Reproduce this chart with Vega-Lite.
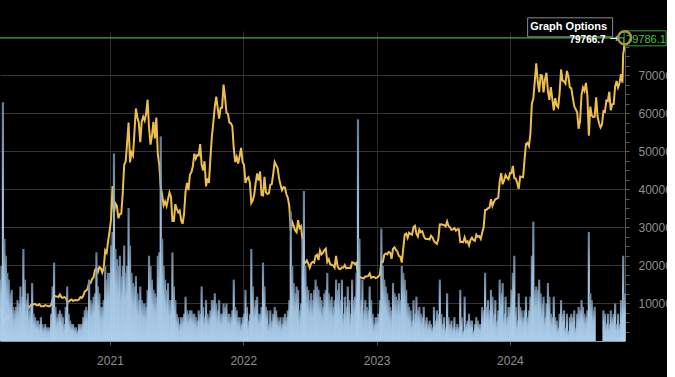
{
  "$schema": "https://vega.github.io/schema/vega-lite/v6.json",
  "width": 625,
  "height": 310,
  "autosize": "none",
  "padding": {"left": 0, "top": 31, "right": 42, "bottom": 36},
  "background": "#000000",
  "config": {"view": {"stroke": null}, "axis": {"labelOverlap": false}},
  "datasets": {
    "btc": [
      {"d":"2020-03-06","p":9120,"v":18},{"d":"2020-03-10","p":7900,"v":22},{"d":"2020-03-14","p":5200,"v":70},{"d":"2020-03-18","p":5400,"v":30},
      {"d":"2020-03-22","p":5830,"v":25},{"d":"2020-03-26","p":6760,"v":20},{"d":"2020-03-30","p":5880,"v":18},{"d":"2020-04-03","p":6730,"v":14},
      {"d":"2020-04-07","p":7200,"v":15},{"d":"2020-04-11","p":6880,"v":10},{"d":"2020-04-15","p":6640,"v":9},{"d":"2020-04-19","p":7130,"v":10},
      {"d":"2020-04-23","p":7500,"v":12},{"d":"2020-04-27","p":7750,"v":11},{"d":"2020-05-01","p":8860,"v":16},{"d":"2020-05-05","p":8990,"v":13},
      {"d":"2020-05-09","p":9600,"v":27},{"d":"2020-05-13","p":9270,"v":18},{"d":"2020-05-17","p":9670,"v":12},{"d":"2020-05-21","p":9080,"v":14},
      {"d":"2020-05-25","p":8800,"v":9},{"d":"2020-05-29","p":9430,"v":10},{"d":"2020-06-02","p":9530,"v":17},{"d":"2020-06-06","p":9660,"v":8},
      {"d":"2020-06-10","p":9780,"v":7},{"d":"2020-06-14","p":9390,"v":6},{"d":"2020-06-18","p":9400,"v":6},{"d":"2020-06-22","p":9680,"v":5},
      {"d":"2020-06-26","p":9150,"v":7},{"d":"2020-06-30","p":9140,"v":5},{"d":"2020-07-04","p":9130,"v":4},{"d":"2020-07-08","p":9430,"v":5},
      {"d":"2020-07-12","p":9300,"v":4},{"d":"2020-07-16","p":9130,"v":4},{"d":"2020-07-20","p":9160,"v":4},{"d":"2020-07-24","p":9540,"v":8},
      {"d":"2020-07-28","p":10940,"v":16},{"d":"2020-08-01","p":11800,"v":23},{"d":"2020-08-05","p":11750,"v":10},{"d":"2020-08-09","p":11680,"v":7},
      {"d":"2020-08-13","p":11580,"v":8},{"d":"2020-08-17","p":12250,"v":9},{"d":"2020-08-21","p":11530,"v":8},{"d":"2020-08-25","p":11370,"v":7},
      {"d":"2020-08-29","p":11540,"v":5},{"d":"2020-09-02","p":11400,"v":10},{"d":"2020-09-06","p":10280,"v":16},{"d":"2020-09-10","p":10360,"v":8},
      {"d":"2020-09-14","p":10680,"v":6},{"d":"2020-09-18","p":10940,"v":5},{"d":"2020-09-22","p":10540,"v":5},{"d":"2020-09-26","p":10730,"v":4},
      {"d":"2020-09-30","p":10780,"v":4},{"d":"2020-10-04","p":10670,"v":3},{"d":"2020-10-08","p":10930,"v":5},{"d":"2020-10-12","p":11540,"v":5},
      {"d":"2020-10-16","p":11320,"v":5},{"d":"2020-10-20","p":11920,"v":7},{"d":"2020-10-24","p":13030,"v":9},{"d":"2020-10-28","p":13270,"v":10},
      {"d":"2020-11-01","p":13740,"v":9},{"d":"2020-11-05","p":15570,"v":18},{"d":"2020-11-09","p":15300,"v":12},{"d":"2020-11-13","p":16300,"v":11},
      {"d":"2020-11-17","p":16720,"v":13},{"d":"2020-11-21","p":18670,"v":14},{"d":"2020-11-25","p":19150,"v":26},{"d":"2020-11-29","p":18180,"v":16},
      {"d":"2020-12-03","p":19440,"v":14},{"d":"2020-12-07","p":19180,"v":10},{"d":"2020-12-11","p":18040,"v":10},{"d":"2020-12-15","p":19270,"v":12},
      {"d":"2020-12-19","p":23860,"v":22},{"d":"2020-12-23","p":23240,"v":18},{"d":"2020-12-27","p":26270,"v":20},{"d":"2020-12-31","p":28950,"v":20},
      {"d":"2021-01-04","p":31970,"v":28},{"d":"2021-01-08","p":40800,"v":32},{"d":"2021-01-12","p":33900,"v":55},{"d":"2021-01-16","p":36180,"v":27},
      {"d":"2021-01-20","p":35500,"v":24},{"d":"2021-01-24","p":32300,"v":22},{"d":"2021-01-28","p":33400,"v":25},{"d":"2021-02-01","p":33500,"v":19},
      {"d":"2021-02-05","p":38900,"v":22},{"d":"2021-02-09","p":46400,"v":28},{"d":"2021-02-13","p":47200,"v":20},{"d":"2021-02-17","p":52100,"v":22},
      {"d":"2021-02-21","p":57500,"v":39},{"d":"2021-02-25","p":47000,"v":28},{"d":"2021-03-01","p":49600,"v":20},{"d":"2021-03-05","p":48800,"v":17},
      {"d":"2021-03-09","p":54900,"v":16},{"d":"2021-03-13","p":61200,"v":19},{"d":"2021-03-17","p":58900,"v":14},{"d":"2021-03-21","p":57400,"v":12},
      {"d":"2021-03-25","p":52300,"v":16},{"d":"2021-03-29","p":57700,"v":12},{"d":"2021-04-02","p":59000,"v":11},{"d":"2021-04-06","p":58000,"v":11},
      {"d":"2021-04-10","p":59800,"v":10},{"d":"2021-04-14","p":63500,"v":15},{"d":"2021-04-18","p":56200,"v":25},{"d":"2021-04-22","p":51700,"v":22},
      {"d":"2021-04-26","p":54000,"v":18},{"d":"2021-04-30","p":57700,"v":15},{"d":"2021-05-04","p":53300,"v":14},{"d":"2021-05-08","p":58800,"v":13},
      {"d":"2021-05-12","p":49200,"v":25},{"d":"2021-05-16","p":46400,"v":26},{"d":"2021-05-20","p":40600,"v":60},{"d":"2021-05-24","p":38400,"v":30},
      {"d":"2021-05-28","p":35700,"v":22},{"d":"2021-06-01","p":36700,"v":18},{"d":"2021-06-05","p":35500,"v":15},{"d":"2021-06-09","p":37300,"v":17},
      {"d":"2021-06-13","p":39100,"v":12},{"d":"2021-06-17","p":38000,"v":12},{"d":"2021-06-21","p":31600,"v":26},{"d":"2021-06-25","p":31600,"v":16},
      {"d":"2021-06-29","p":36000,"v":12},{"d":"2021-07-03","p":34800,"v":8},{"d":"2021-07-07","p":33800,"v":7},{"d":"2021-07-11","p":34300,"v":5},
      {"d":"2021-07-15","p":31800,"v":7},{"d":"2021-07-19","p":30800,"v":7},{"d":"2021-07-23","p":33600,"v":8},{"d":"2021-07-27","p":39400,"v":13},
      {"d":"2021-07-31","p":41600,"v":9},{"d":"2021-08-04","p":39700,"v":8},{"d":"2021-08-08","p":43800,"v":9},{"d":"2021-08-12","p":44400,"v":9},
      {"d":"2021-08-16","p":46000,"v":8},{"d":"2021-08-20","p":49300,"v":8},{"d":"2021-08-24","p":48000,"v":7},{"d":"2021-08-28","p":49000,"v":6},
      {"d":"2021-09-01","p":48800,"v":9},{"d":"2021-09-05","p":51800,"v":8},{"d":"2021-09-09","p":46400,"v":16},{"d":"2021-09-13","p":44900,"v":10},
      {"d":"2021-09-17","p":47300,"v":7},{"d":"2021-09-21","p":40700,"v":12},{"d":"2021-09-25","p":42800,"v":8},{"d":"2021-09-29","p":41600,"v":7},
      {"d":"2021-10-03","p":48200,"v":9},{"d":"2021-10-07","p":53800,"v":12},{"d":"2021-10-11","p":57500,"v":12},{"d":"2021-10-15","p":61700,"v":14},
      {"d":"2021-10-19","p":64300,"v":11},{"d":"2021-10-23","p":61300,"v":9},{"d":"2021-10-27","p":58500,"v":12},{"d":"2021-10-31","p":61300,"v":8},
      {"d":"2021-11-04","p":61400,"v":8},{"d":"2021-11-08","p":67500,"v":11},{"d":"2021-11-12","p":64200,"v":10},{"d":"2021-11-16","p":60100,"v":11},
      {"d":"2021-11-20","p":59800,"v":8},{"d":"2021-11-24","p":57500,"v":8},{"d":"2021-11-28","p":57300,"v":7},{"d":"2021-12-02","p":56500,"v":9},
      {"d":"2021-12-06","p":50600,"v":18},{"d":"2021-12-10","p":47100,"v":10},{"d":"2021-12-14","p":48400,"v":9},{"d":"2021-12-18","p":46700,"v":7},
      {"d":"2021-12-22","p":48600,"v":7},{"d":"2021-12-26","p":50800,"v":5},{"d":"2021-12-30","p":47100,"v":7},
      {"d":"2022-01-03","p":46400,"v":8},{"d":"2022-01-07","p":41600,"v":15},{"d":"2022-01-11","p":42700,"v":10},{"d":"2022-01-15","p":43100,"v":6},
      {"d":"2022-01-19","p":41700,"v":8},{"d":"2022-01-23","p":36300,"v":27},{"d":"2022-01-27","p":37000,"v":16},{"d":"2022-01-31","p":38500,"v":10},
      {"d":"2022-02-04","p":41600,"v":12},{"d":"2022-02-08","p":44100,"v":13},{"d":"2022-02-12","p":42200,"v":8},{"d":"2022-02-16","p":44600,"v":8},
      {"d":"2022-02-20","p":38400,"v":10},{"d":"2022-02-24","p":38300,"v":23},{"d":"2022-02-28","p":43200,"v":16},{"d":"2022-03-04","p":39100,"v":10},
      {"d":"2022-03-08","p":38700,"v":9},{"d":"2022-03-12","p":38800,"v":5},{"d":"2022-03-16","p":41100,"v":9},{"d":"2022-03-20","p":41300,"v":6},
      {"d":"2022-03-24","p":44000,"v":8},{"d":"2022-03-28","p":47100,"v":10},{"d":"2022-04-01","p":46300,"v":9},{"d":"2022-04-05","p":45500,"v":7},
      {"d":"2022-04-09","p":42800,"v":6},{"d":"2022-04-13","p":41100,"v":7},{"d":"2022-04-17","p":39700,"v":5},{"d":"2022-04-21","p":40500,"v":7},
      {"d":"2022-04-25","p":40400,"v":8},{"d":"2022-04-29","p":38600,"v":7},{"d":"2022-05-03","p":37700,"v":9},{"d":"2022-05-07","p":35500,"v":12},
      {"d":"2022-05-11","p":29000,"v":38},{"d":"2022-05-15","p":31300,"v":22},{"d":"2022-05-19","p":30300,"v":17},{"d":"2022-05-23","p":29100,"v":14},
      {"d":"2022-05-27","p":28600,"v":16},{"d":"2022-05-31","p":31800,"v":15},{"d":"2022-06-04","p":29700,"v":9},{"d":"2022-06-08","p":30200,"v":11},
      {"d":"2022-06-12","p":26800,"v":30},{"d":"2022-06-16","p":20400,"v":44},{"d":"2022-06-20","p":20600,"v":22},{"d":"2022-06-24","p":21200,"v":16},
      {"d":"2022-06-28","p":20300,"v":15},{"d":"2022-07-02","p":19300,"v":12},{"d":"2022-07-06","p":20500,"v":14},{"d":"2022-07-10","p":20800,"v":12},
      {"d":"2022-07-14","p":20600,"v":15},{"d":"2022-07-18","p":22400,"v":18},{"d":"2022-07-22","p":22700,"v":16},{"d":"2022-07-26","p":21300,"v":15},
      {"d":"2022-07-30","p":23800,"v":13},{"d":"2022-08-03","p":22800,"v":12},{"d":"2022-08-07","p":23200,"v":10},{"d":"2022-08-11","p":23900,"v":14},
      {"d":"2022-08-15","p":24300,"v":15},{"d":"2022-08-19","p":20800,"v":20},{"d":"2022-08-23","p":21500,"v":14},{"d":"2022-08-27","p":20200,"v":12},
      {"d":"2022-08-31","p":20000,"v":13},{"d":"2022-09-04","p":19900,"v":10},{"d":"2022-09-08","p":19300,"v":12},{"d":"2022-09-12","p":22400,"v":18},
      {"d":"2022-09-16","p":19700,"v":15},{"d":"2022-09-20","p":19000,"v":17},{"d":"2022-09-24","p":18900,"v":12},{"d":"2022-09-28","p":19400,"v":18},
      {"d":"2022-10-02","p":19300,"v":8},{"d":"2022-10-06","p":20000,"v":13},{"d":"2022-10-10","p":19100,"v":10},{"d":"2022-10-14","p":19200,"v":16},
      {"d":"2022-10-18","p":19300,"v":12},{"d":"2022-10-22","p":19200,"v":8},{"d":"2022-10-26","p":20700,"v":18},{"d":"2022-10-30","p":20600,"v":12},
      {"d":"2022-11-03","p":20200,"v":13},{"d":"2022-11-07","p":20600,"v":20},{"d":"2022-11-11","p":17000,"v":65},{"d":"2022-11-15","p":16900,"v":30},
      {"d":"2022-11-19","p":16700,"v":12},{"d":"2022-11-23","p":16600,"v":18},{"d":"2022-11-27","p":16460,"v":9},{"d":"2022-12-01","p":16970,"v":12},
      {"d":"2022-12-05","p":16970,"v":10},{"d":"2022-12-09","p":17130,"v":9},{"d":"2022-12-13","p":17780,"v":16},{"d":"2022-12-17","p":16630,"v":12},
      {"d":"2022-12-21","p":16830,"v":8},{"d":"2022-12-25","p":16840,"v":5},{"d":"2022-12-29","p":16550,"v":7},
      {"d":"2023-01-02","p":16680,"v":7},{"d":"2023-01-06","p":16950,"v":8},{"d":"2023-01-10","p":17440,"v":12},{"d":"2023-01-14","p":20900,"v":33},
      {"d":"2023-01-18","p":20800,"v":22},{"d":"2023-01-22","p":22700,"v":18},{"d":"2023-01-26","p":23050,"v":16},{"d":"2023-01-30","p":22800,"v":14},
      {"d":"2023-02-03","p":23430,"v":12},{"d":"2023-02-07","p":23250,"v":10},{"d":"2023-02-11","p":21630,"v":9},{"d":"2023-02-15","p":24300,"v":17},
      {"d":"2023-02-19","p":24640,"v":14},{"d":"2023-02-23","p":23940,"v":13},{"d":"2023-02-27","p":23500,"v":12},{"d":"2023-03-03","p":22360,"v":14},
      {"d":"2023-03-07","p":22200,"v":12},{"d":"2023-03-11","p":20630,"v":22},{"d":"2023-03-15","p":24370,"v":20},{"d":"2023-03-19","p":28040,"v":18},
      {"d":"2023-03-23","p":28300,"v":15},{"d":"2023-03-27","p":27140,"v":11},{"d":"2023-03-31","p":28480,"v":10},{"d":"2023-04-04","p":28170,"v":9},
      {"d":"2023-04-08","p":27950,"v":6},{"d":"2023-04-12","p":30000,"v":12},{"d":"2023-04-16","p":30300,"v":8},{"d":"2023-04-20","p":28250,"v":13},
      {"d":"2023-04-24","p":27500,"v":9},{"d":"2023-04-28","p":29340,"v":10},{"d":"2023-05-02","p":28680,"v":8},{"d":"2023-05-06","p":28900,"v":7},
      {"d":"2023-05-10","p":27650,"v":10},{"d":"2023-05-14","p":26920,"v":6},{"d":"2023-05-18","p":26820,"v":7},{"d":"2023-05-22","p":26850,"v":5},
      {"d":"2023-05-26","p":26720,"v":6},{"d":"2023-05-30","p":27700,"v":5},{"d":"2023-06-03","p":27250,"v":4},{"d":"2023-06-07","p":26350,"v":10},
      {"d":"2023-06-11","p":25850,"v":6},{"d":"2023-06-15","p":25580,"v":9},{"d":"2023-06-19","p":26840,"v":8},{"d":"2023-06-23","p":30680,"v":18},
      {"d":"2023-06-27","p":30700,"v":8},{"d":"2023-07-01","p":30590,"v":5},{"d":"2023-07-05","p":30510,"v":7},{"d":"2023-07-09","p":30170,"v":4},
      {"d":"2023-07-13","p":31450,"v":14},{"d":"2023-07-17","p":30250,"v":7},{"d":"2023-07-21","p":29900,"v":5},{"d":"2023-07-25","p":29230,"v":6},
      {"d":"2023-07-29","p":29350,"v":4},{"d":"2023-08-02","p":29700,"v":7},{"d":"2023-08-06","p":29050,"v":4},{"d":"2023-08-10","p":29430,"v":5},
      {"d":"2023-08-14","p":29400,"v":4},{"d":"2023-08-18","p":26050,"v":15},{"d":"2023-08-22","p":26120,"v":7},{"d":"2023-08-26","p":26010,"v":3},
      {"d":"2023-08-30","p":27300,"v":13},{"d":"2023-09-03","p":25970,"v":5},{"d":"2023-09-07","p":26240,"v":6},{"d":"2023-09-11","p":25160,"v":8},
      {"d":"2023-09-15","p":26600,"v":6},{"d":"2023-09-19","p":27200,"v":6},{"d":"2023-09-23","p":26580,"v":3},{"d":"2023-09-27","p":26350,"v":5},
      {"d":"2023-10-01","p":27980,"v":7},{"d":"2023-10-05","p":27420,"v":6},{"d":"2023-10-09","p":27600,"v":5},{"d":"2023-10-13","p":26850,"v":5},
      {"d":"2023-10-17","p":28500,"v":10},{"d":"2023-10-21","p":29900,"v":9},{"d":"2023-10-25","p":34500,"v":20},{"d":"2023-10-29","p":34540,"v":10},
      {"d":"2023-11-02","p":34940,"v":12},{"d":"2023-11-06","p":35050,"v":9},{"d":"2023-11-10","p":37310,"v":15},{"d":"2023-11-14","p":35550,"v":13},
      {"d":"2023-11-18","p":36600,"v":8},{"d":"2023-11-22","p":37300,"v":12},{"d":"2023-11-26","p":37450,"v":6},{"d":"2023-11-30","p":37720,"v":9},
      {"d":"2023-12-04","p":41980,"v":18},{"d":"2023-12-08","p":44170,"v":14},{"d":"2023-12-12","p":41250,"v":17},{"d":"2023-12-16","p":42250,"v":8},
      {"d":"2023-12-20","p":43650,"v":13},{"d":"2023-12-24","p":43000,"v":7},{"d":"2023-12-28","p":42580,"v":10},
      {"d":"2024-01-01","p":44180,"v":10},{"d":"2024-01-05","p":44150,"v":15},{"d":"2024-01-09","p":46100,"v":20},{"d":"2024-01-13","p":42850,"v":25},
      {"d":"2024-01-17","p":42740,"v":10},{"d":"2024-01-21","p":41580,"v":6},{"d":"2024-01-25","p":40000,"v":14},{"d":"2024-01-29","p":43300,"v":10},
      {"d":"2024-02-02","p":43200,"v":9},{"d":"2024-02-06","p":43090,"v":7},{"d":"2024-02-10","p":47770,"v":9},{"d":"2024-02-14","p":51840,"v":13},
      {"d":"2024-02-18","p":52140,"v":7},{"d":"2024-02-22","p":51300,"v":9},{"d":"2024-02-26","p":54500,"v":13},{"d":"2024-03-01","p":62440,"v":25},
      {"d":"2024-03-05","p":63800,"v":35},{"d":"2024-03-09","p":68300,"v":15},{"d":"2024-03-13","p":73100,"v":16},{"d":"2024-03-17","p":68390,"v":15},
      {"d":"2024-03-21","p":65500,"v":18},{"d":"2024-03-25","p":69980,"v":14},{"d":"2024-03-29","p":69870,"v":11},{"d":"2024-04-02","p":65450,"v":13},
      {"d":"2024-04-06","p":68900,"v":7},{"d":"2024-04-10","p":70600,"v":11},{"d":"2024-04-14","p":65660,"v":17},{"d":"2024-04-18","p":63470,"v":13},
      {"d":"2024-04-22","p":66840,"v":8},{"d":"2024-04-26","p":63750,"v":7},{"d":"2024-04-30","p":60660,"v":13},{"d":"2024-05-04","p":63900,"v":7},
      {"d":"2024-05-08","p":62000,"v":6},{"d":"2024-05-12","p":61480,"v":4},{"d":"2024-05-16","p":65250,"v":8},{"d":"2024-05-20","p":71450,"v":12},
      {"d":"2024-05-24","p":68550,"v":8},{"d":"2024-05-28","p":68350,"v":9},{"d":"2024-06-01","p":67750,"v":4},{"d":"2024-06-05","p":71080,"v":8},
      {"d":"2024-06-09","p":69650,"v":3},{"d":"2024-06-13","p":66750,"v":7},{"d":"2024-06-17","p":66500,"v":8},{"d":"2024-06-21","p":64100,"v":7},
      {"d":"2024-06-25","p":61800,"v":9},{"d":"2024-06-29","p":60970,"v":4},{"d":"2024-07-03","p":60200,"v":8},{"d":"2024-07-07","p":55860,"v":10},
      {"d":"2024-07-11","p":57900,"v":9},{"d":"2024-07-15","p":64800,"v":12},{"d":"2024-07-19","p":66680,"v":10},{"d":"2024-07-23","p":65800,"v":8},
      {"d":"2024-07-27","p":67900,"v":7},{"d":"2024-07-31","p":64630,"v":9},{"d":"2024-08-04","p":54020,"v":32},{"d":"2024-08-08","p":61700,"v":14},
      {"d":"2024-08-12","p":59350,"v":12},{"d":"2024-08-16","p":58900,"v":9},{"d":"2024-08-20","p":59000,"v":10},{"d":"2024-08-24","p":64100},
      {"d":"2024-08-28","p":59000},{"d":"2024-09-01","p":57300},{"d":"2024-09-05","p":56200},{"d":"2024-09-09","p":57000},
      {"d":"2024-09-13","p":60500,"v":9},{"d":"2024-09-17","p":60300,"v":8},{"d":"2024-09-21","p":63300,"v":5},{"d":"2024-09-25","p":63100,"v":8},
      {"d":"2024-09-29","p":65600,"v":5},{"d":"2024-10-03","p":60700,"v":9},{"d":"2024-10-07","p":62300,"v":7},{"d":"2024-10-11","p":62400,"v":8},
      {"d":"2024-10-15","p":67000,"v":11},{"d":"2024-10-19","p":68400,"v":5},{"d":"2024-10-23","p":66700,"v":8},{"d":"2024-10-27","p":67900,"v":5},
      {"d":"2024-10-31","p":70200,"v":12},{"d":"2024-11-04","p":68000,"v":10},{"d":"2024-11-06","p":75600,"v":25},{"d":"2024-11-08","p":76500,"v":12},
      {"d":"2024-11-10","p":79786.1,"v":14}
    ],
    "last": [
      {"d":"2024-11-10","p":79786.1,"tag":"79786.1","prev":"79766.7","arr":"→","btn":"Graph Options"}
    ]
  },
  "layer": [
    {
      "data": {"name": "btc"},
      "mark": {"type": "line", "color": "#ecbf4c", "strokeWidth": 2, "clip": true},
      "encoding": {
        "x": {
          "field": "d", "type": "temporal", "title": null,
          "scale": {"type": "utc", "padding": 0, "domain": [{"year":2020,"month":3,"date":6,"utc":true},{"year":2024,"month":11,"date":11,"utc":true}]},
          "axis": {
            "values": [
              {"year":2021,"month":1,"date":1,"utc":true},
              {"year":2022,"month":1,"date":1,"utc":true},
              {"year":2023,"month":1,"date":1,"utc":true},
              {"year":2024,"month":1,"date":1,"utc":true}
            ],
            "format": "%Y",
            "formatType": "utc",
            "labelOverlap": false,
            "labelFlush": false,
            "grid": true,
            "gridColor": "#2c2c2c",
            "domainColor": "#8a98a6",
            "tickColor": "#555555",
            "tickSize": 4,
            "labelColor": "#8e8e8e",
            "labelFont": "Liberation Sans",
            "labelFontSize": 12,
            "labelPadding": 10
          }
        },
        "y": {
          "field": "p", "type": "quantitative", "title": null,
          "scale": {"domain": [0, 81579], "nice": false, "zero": true},
          "axis": {
            "values": [2500,5000,7500,10000,12500,15000,17500,20000,22500,25000,27500,30000,32500,35000,37500,40000,42500,45000,47500,50000,52500,55000,57500,60000,62500,65000,67500,70000,72500,75000,77500],
            "orient": "right",
            "labelExpr": "datum.value % 10000 === 0 ? format(datum.value, 'd') : ''",
            "labelOverlap": false,
            "grid": true,
            "gridColor": "#363636",
            "gridOpacity": {"condition": {"test": "datum.value % 10000 === 0", "value": 1}, "value": 0},
            "domainColor": "#555555",
            "tickColor": "#5a5a5a",
            "tickSize": 4,
            "labelColor": "#8e8e8e",
            "labelFont": "Liberation Sans",
            "labelFontSize": 12,
            "labelPadding": 9,
            "labelBaseline": "middle"
          }
        }
      }
    },
    {
      "data": {"name": "btc"},
      "transform": [{"filter": "isValid(datum.v)"}],
      "mark": {
        "type": "bar", "size": 2.2, "opacity": 0.95,
        "color": {"gradient": "linear", "x1": 0, "y1": 1, "x2": 0, "y2": 0,
          "stops": [{"offset": 0, "color": "#b2d3ef"}, {"offset": 0.6, "color": "#a4c6e4"}, {"offset": 1, "color": "#6a8299"}]}
      },
      "encoding": {
        "x": {"field": "d", "type": "temporal", "title": null,
          "scale": {"type": "utc", "padding": 0, "domain": [{"year":2020,"month":3,"date":6,"utc":true},{"year":2024,"month":11,"date":11,"utc":true}]}},
        "y": {"field": "v", "type": "quantitative", "title": null, "scale": {"domain": [0, 90.9], "nice": false}, "axis": null}
      }
    },
    {
      "data": {"name": "last"},
      "mark": {"type": "rule", "color": "#46a846", "strokeWidth": 1.3},
      "encoding": {
        "y": {"field": "p", "type": "quantitative", "title": null, "scale": {"domain": [0, 81579], "nice": false}, "axis": null}
      }
    },
    {
      "data": {"name": "last"},
      "layer": [
        {"mark": {"type": "point", "shape": "M-97,-20H-12V-1H-97Z", "size": 4, "filled": true, "fill": "#000000", "stroke": "#8a8a8a", "strokeWidth": 1, "opacity": 1}},
        {"mark": {"type": "text", "align": "center", "baseline": "alphabetic", "dx": -56, "dy": -8, "font": "Liberation Sans", "fontSize": 11, "fontWeight": "bold", "color": "#ffffff"}, "encoding": {"text": {"field": "btn"}}},
        {"mark": {"type": "text", "align": "right", "baseline": "middle", "dx": -19, "dy": 2, "font": "Liberation Sans", "fontSize": 10, "fontWeight": "bold", "color": "#ffffff"}, "encoding": {"text": {"field": "prev"}}},
        {"mark": {"type": "text", "align": "right", "baseline": "middle", "dx": -6, "dy": 1.5, "font": "DejaVu Sans", "fontSize": 11, "color": "#ffffff"}, "encoding": {"text": {"field": "arr"}}},
        {"mark": {"type": "point", "shape": "M-0.5,-7H41.5V8H-0.5Z", "size": 4, "filled": true, "fill": "#000000", "stroke": "#3e9e3e", "strokeWidth": 1, "opacity": 1}},
        {"mark": {"type": "text", "align": "left", "baseline": "middle", "dx": 1.5, "dy": 2, "font": "Liberation Sans", "fontSize": 11, "color": "#4cc24c"}, "encoding": {"text": {"field": "tag"}}},
        {"mark": {"type": "point", "shape": "circle", "size": 169, "filled": false, "stroke": "#a8963c", "strokeWidth": 2.5, "opacity": 1}}
      ],
      "encoding": {
        "x": {"field": "d", "type": "temporal", "title": null,
          "scale": {"type": "utc", "padding": 0, "domain": [{"year":2020,"month":3,"date":6,"utc":true},{"year":2024,"month":11,"date":11,"utc":true}]}},
        "y": {"field": "p", "type": "quantitative", "title": null, "scale": {"domain": [0, 81579], "nice": false}, "axis": null}
      }
    }
  ],
  "resolve": {"scale": {"y": "independent"}, "axis": {"y": "independent"}}
}
